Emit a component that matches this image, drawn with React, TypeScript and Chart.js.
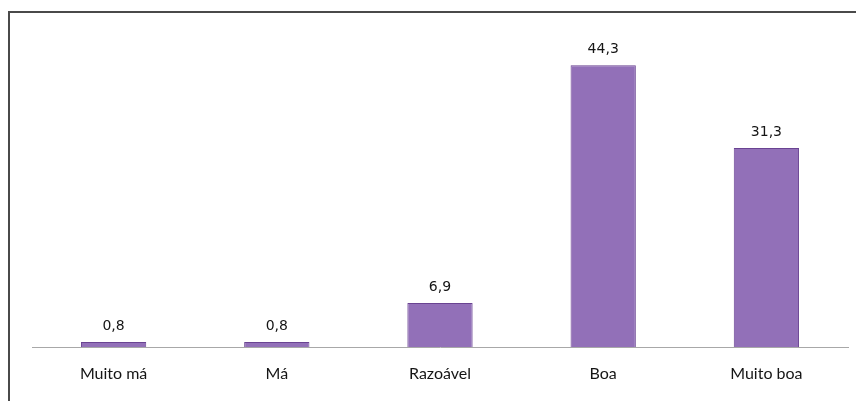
import React, { useEffect, useRef } from "react";
import { Chart, registerables } from "chart.js";

Chart.register(...registerables);

const categories = ["Muito má", "Má", "Razoável", "Boa", "Muito boa"];
const values = [0.8, 0.8, 6.9, 44.3, 31.3];
const valueLabels = ["0,8", "0,8", "6,9", "44,3", "31,3"];

const FONT = "Lato, 'Open Sans', sans-serif";

export default function App() {
  const ref = useRef<HTMLCanvasElement | null>(null);

  useEffect(() => {
    if (!ref.current) return;
    const frame = {
      id: "frame",
      beforeDraw(chart: any) {
        const ctx = chart.ctx;
        ctx.save();
        ctx.fillStyle = "#ffffff";
        ctx.fillRect(0, 0, chart.width, chart.height);
        ctx.strokeStyle = "#4a4a4a";
        ctx.lineWidth = 2;
        ctx.beginPath();
        ctx.moveTo(9, 401);
        ctx.lineTo(9, 12);
        ctx.lineTo(856, 12);
        ctx.stroke();
        ctx.restore();
      },
    };
    const labelsPlugin = {
      id: "valueLabels",
      afterDatasetsDraw(chart: any) {
        const ctx = chart.ctx;
        const meta = chart.getDatasetMeta(0);
        ctx.save();
        ctx.fillStyle = "#151515";
        ctx.font = `14px 'DejaVu Sans', sans-serif`;
        ctx.textAlign = "center";
        ctx.textBaseline = "alphabetic";
        meta.data.forEach((bar: any, i: number) => {
          ctx.fillText(valueLabels[i], bar.x, bar.y - 12);
        });
        ctx.restore();
      },
    };
    const chart = new Chart(ref.current, {
      type: "bar",
      data: {
        labels: categories,
        datasets: [
          {
            data: values,
            backgroundColor: "#9270b8",
            borderColor: "#6a4392",
            borderWidth: 1,
            categoryPercentage: 0.8,
            barPercentage: 0.5,
          },
        ],
      },
      options: {
        animation: false,
        responsive: false,
        maintainAspectRatio: false,
        layout: { padding: { left: 32, right: 8, top: 29, bottom: 0 } },
        plugins: { legend: { display: false }, tooltip: { enabled: false } },
        scales: {
          y: { display: false, min: 0, max: 50 },
          x: {
            grid: { display: false, drawTicks: false },
            border: { display: true, color: "#a8a8a8", width: 1 },
            ticks: {
              color: "#151515",
              font: { family: FONT, size: 16 },
              padding: 17,
              maxRotation: 0,
            },
            afterFit(scale: any) {
              scale.height = 54;
            },
          },
        },
      },
      plugins: [frame, labelsPlugin],
    });
    return () => chart.destroy();
  }, []);

  return (
    <div style={{ position: "fixed", left: 0, top: 0, width: 856, height: 401 }}>
      <canvas ref={ref} width={856} height={401} style={{ width: 856, height: 401 }} />
    </div>
  );
}
